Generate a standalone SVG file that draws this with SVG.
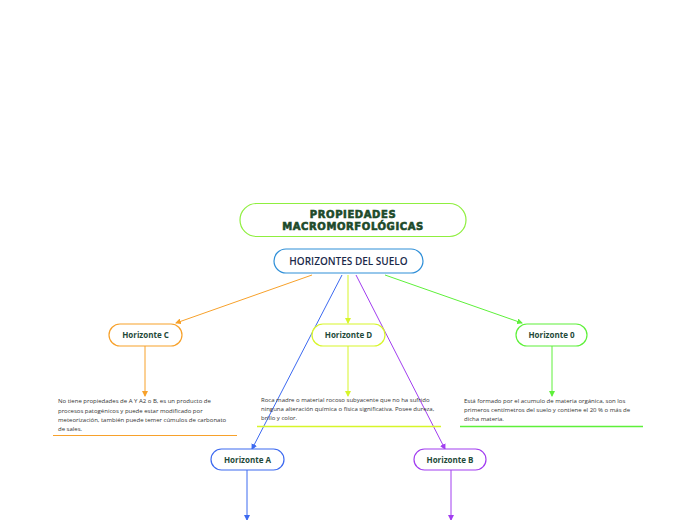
<svg xmlns="http://www.w3.org/2000/svg" width="696" height="520" viewBox="0 0 696 520">
<style>
.box{fill:#fff;stroke-width:1.2}
.lbl{font-family:"Open Sans",sans-serif;font-weight:700;font-size:8px;fill:#1f4a3a;text-anchor:middle}
.desc{font-family:"Open Sans",sans-serif;font-size:6px;fill:#333}
.c{fill:none;stroke-width:1}
.ttl{font-family:"DejaVu Sans",sans-serif;font-weight:900;font-size:10px;fill:#1d4a2a;stroke:#1d4a2a;stroke-width:0.6;letter-spacing:0.6px;text-anchor:middle}
</style>
<defs>
<marker id="ao" markerWidth="6" markerHeight="6" refX="5" refY="3" orient="auto" markerUnits="userSpaceOnUse"><path d="M0,0 L6,3 L0,6 z" fill="#f7a12b"/></marker>
<marker id="ay" markerWidth="6" markerHeight="6" refX="5" refY="3" orient="auto" markerUnits="userSpaceOnUse"><path d="M0,0 L6,3 L0,6 z" fill="#d7f52a"/></marker>
<marker id="ag" markerWidth="6" markerHeight="6" refX="5" refY="3" orient="auto" markerUnits="userSpaceOnUse"><path d="M0,0 L6,3 L0,6 z" fill="#5ef03a"/></marker>
<marker id="ab" markerWidth="6" markerHeight="6" refX="5" refY="3" orient="auto" markerUnits="userSpaceOnUse"><path d="M0,0 L6,3 L0,6 z" fill="#3d6af0"/></marker>
<marker id="ap" markerWidth="6" markerHeight="6" refX="5" refY="3" orient="auto" markerUnits="userSpaceOnUse"><path d="M0,0 L6,3 L0,6 z" fill="#a23ef0"/></marker>
</defs>
<rect width="696" height="520" fill="#fff"/>
<g id="connectors">
<line class="c" x1="312" y1="275" x2="176" y2="323" stroke="#f7a12b" marker-end="url(#ao)"/>
<line class="c" x1="342" y1="275" x2="252" y2="449" stroke="#3d6af0" marker-end="url(#ab)"/>
<line class="c" x1="348" y1="275" x2="348" y2="323" stroke="#d7f52a" marker-end="url(#ay)"/>
<line class="c" x1="356" y1="275" x2="445" y2="449" stroke="#a23ef0" marker-end="url(#ap)"/>
<line class="c" x1="385" y1="275" x2="522" y2="323" stroke="#5ef03a" marker-end="url(#ag)"/>
<line class="c" x1="145" y1="346" x2="145" y2="396" stroke="#f7a12b" marker-end="url(#ao)"/>
<line class="c" x1="348" y1="346" x2="348" y2="396" stroke="#d7f52a" marker-end="url(#ay)"/>
<line class="c" x1="552" y1="346" x2="552" y2="396" stroke="#5ef03a" marker-end="url(#ag)"/>
<line class="c" x1="247" y1="470" x2="247" y2="520" stroke="#3d6af0" marker-end="url(#ab)"/>
<line class="c" x1="451" y1="470" x2="451" y2="520" stroke="#a23ef0" marker-end="url(#ap)"/>
</g>
<g id="title">
<rect class="box" x="240" y="203.5" width="226" height="33" rx="16.5" stroke="#8fef3f"/>
<text class="ttl" x="353" y="218">PROPIEDADES</text>
<text class="ttl" x="353" y="229.5">MACROMORFOLÓGICAS</text>
</g>
<g id="horizontes">
<rect class="box" x="274" y="249" width="149" height="24" rx="12" stroke="#2f8fd8"/>
<text x="348.5" y="264.5" text-anchor="middle" font-family="Open Sans,sans-serif" font-weight="600" font-size="10" fill="#1a2a4a">HORIZONTES DEL SUELO</text>
</g>
<g id="horizonteC">
<rect class="box" x="109" y="324" width="73" height="22" rx="11" stroke="#f7a12b"/>
<text class="lbl" x="145.5" y="338">Horizonte C</text>
</g>
<g id="horizonteD">
<rect class="box" x="312" y="324" width="73" height="22" rx="11" stroke="#d7f52a"/>
<text class="lbl" x="348.5" y="338">Horizonte D</text>
</g>
<g id="horizonte0">
<rect class="box" x="516" y="324" width="71" height="22" rx="11" stroke="#5ef03a"/>
<text class="lbl" x="551.5" y="338">Horizonte 0</text>
</g>
<g id="horizonteA">
<rect class="box" x="211" y="449" width="73" height="21" rx="10.5" stroke="#3d6af0"/>
<text class="lbl" x="247.5" y="462.5">Horizonte A</text>
</g>
<g id="horizonteB">
<rect class="box" x="414" y="449" width="72" height="21" rx="10.5" stroke="#a23ef0"/>
<text class="lbl" x="450" y="462.5">Horizonte B</text>
</g>
<g id="descC">
<text class="desc" x="58" y="403">No tiene propiedades de A Y A2 o B, es un producto de</text>
<text class="desc" x="58" y="412.5">procesos patogénicos y puede estar modificado por</text>
<text class="desc" x="58" y="421.5">meteorización, también puede temer cúmulos de carbonato</text>
<text class="desc" x="58" y="430.5">de sales.</text>
<line x1="53" y1="435.5" x2="237" y2="435.5" stroke="#f7a12b" stroke-width="1.2"/>
</g>
<g id="descD">
<text class="desc" x="261" y="402">Roca madre o material rocoso subyacente que no ha sufrido</text>
<text class="desc" x="261" y="411">ninguna alteración química o física significativa. Posee dureza,</text>
<text class="desc" x="261" y="420">brillo y color.</text>
<line x1="257" y1="426.5" x2="441" y2="426.5" stroke="#d7f52a" stroke-width="1.5"/>
</g>
<g id="desc0">
<text class="desc" x="464" y="403">Está formado por el acumulo de materia orgánica, son los</text>
<text class="desc" x="464" y="412">primeros centímetros del suelo y contiene el 20 % o más de</text>
<text class="desc" x="464" y="421">dicha materia.</text>
<line x1="460" y1="426.5" x2="643" y2="426.5" stroke="#5ef03a" stroke-width="1.5"/>
</g>
</svg>
